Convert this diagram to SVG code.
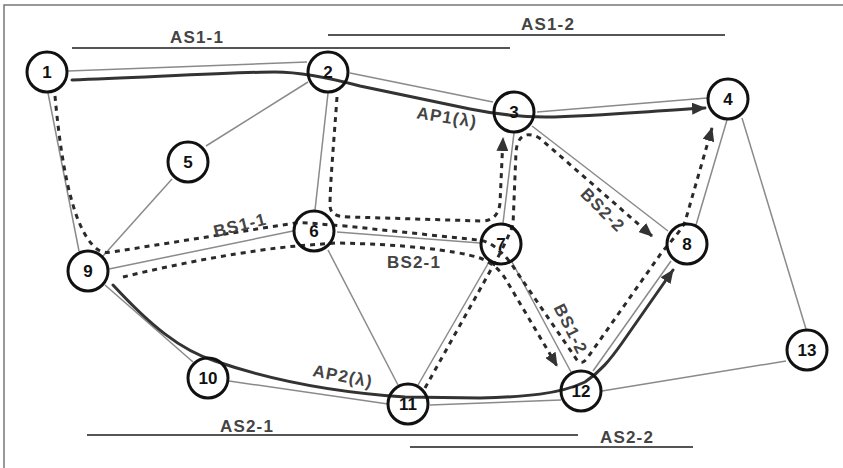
<svg xmlns="http://www.w3.org/2000/svg" width="843" height="468" viewBox="0 0 843 468">
<style>
  .frame{stroke:#777;stroke-width:1.5;fill:none}
  .edge{stroke:#8a8a8a;stroke-width:1.5;fill:none}
  .seg{stroke:#555;stroke-width:2;fill:none}
  .ap{stroke:#333;stroke-width:3;fill:none;stroke-linecap:round}
  .bs{stroke:#2a2a2a;stroke-width:3;fill:none;stroke-dasharray:5 5}
  .node circle{fill:none;stroke:#111;stroke-width:3}
  .node text{font-family:"Liberation Sans",Arial,sans-serif;font-weight:bold;font-size:17px;fill:#111;text-anchor:middle}
  .lbl{font-family:"Liberation Sans",Arial,sans-serif;font-weight:bold;font-size:17px;fill:#444;text-anchor:middle;letter-spacing:1.2px}
</style>
<defs>
  <marker id="ah" markerUnits="userSpaceOnUse" markerWidth="14" markerHeight="12" refX="13" refY="6" orient="auto">
    <path d="M0,0 L14,6 L0,12 z" fill="#333"/>
  </marker>
</defs>
<rect width="843" height="468" fill="#fff"/>
<path class="frame" d="M4,468 L4,5 L843,5"/>

<g id="segments">
  <line class="seg" x1="72" y1="48" x2="510" y2="48"/>
  <line class="seg" x1="328" y1="35" x2="725" y2="35"/>
  <line class="seg" x1="87" y1="435" x2="578" y2="435"/>
  <line class="seg" x1="410" y1="447" x2="693" y2="447"/>
  <text class="lbl" x="197" y="43">AS1-1</text>
  <text class="lbl" x="548" y="30">AS1-2</text>
  <text class="lbl" x="247" y="432">AS2-1</text>
  <text class="lbl" x="627" y="443">AS2-2</text>
</g>

<g id="connectors">
  <line class="edge" x1="68" y1="71" x2="307" y2="62"/>
  <line class="edge" x1="350" y1="73" x2="493" y2="102"/>
  <line class="edge" x1="537" y1="112" x2="707" y2="98"/>
  <line class="edge" x1="48" y1="93" x2="79" y2="251"/>
  <line class="edge" x1="308" y1="82" x2="206" y2="146"/>
  <line class="edge" x1="172" y1="179" x2="103" y2="256"/>
  <line class="edge" x1="328" y1="93" x2="315" y2="210"/>
  <line class="edge" x1="109" y1="269" x2="293" y2="231"/>
  <line class="edge" x1="337" y1="232" x2="480" y2="243"/>
  <line class="edge" x1="328" y1="250" x2="398" y2="385"/>
  <line class="edge" x1="503" y1="223" x2="514" y2="133"/>
  <line class="edge" x1="489" y1="262" x2="418" y2="385"/>
  <line class="edge" x1="512" y1="262" x2="571" y2="372"/>
  <line class="edge" x1="532" y1="126" x2="668" y2="231"/>
  <line class="edge" x1="696" y1="225" x2="727" y2="120"/>
  <line class="edge" x1="742" y1="118" x2="806" y2="329"/>
  <line class="edge" x1="786" y1="361" x2="602" y2="391"/>
  <line class="edge" x1="593" y1="371" x2="671" y2="261"/>
  <line class="edge" x1="105" y1="285" x2="193" y2="362"/>
  <line class="edge" x1="229" y1="381" x2="388" y2="404"/>
  <line class="edge" x1="430" y1="405" x2="561" y2="400"/>

  <path class="ap" marker-end="url(#ah)" d="M72,80 C150,77 240,72 275,72 C300,72 330,78 360,86 L470,109 C495,114 515,117 545,117 C600,116 650,111 705,108"/>
  <path class="ap" marker-end="url(#ah)" d="M113,285 C150,325 180,350 215,361 C270,380 330,392 405,397 L480,398 C525,397 560,394 585,382 C600,372 610,360 622,343 L673,270"/>

  <path class="bs" d="M55,96 C60,150 70,228 97,249 C101,252 106,253 112,252 L295,223 C310,222 325,225 345,226 L478,240 C490,241 500,250 510,262 L577,360 Q582,366 588,357 L662,252 C672,240 680,232 685,222 L712,128" marker-end="url(#ah)"/>
  <path class="bs" d="M337,97 C334,140 330,185 330,205 C330,214 336,217 350,217 L482,221 C493,221 499,214 500,203 L503,138" marker-end="url(#ah)"/>
  <path class="bs" d="M425,388 L493,266 C500,254 507,240 513,225 L516,152 C517,140 522,133 532,135 C536,136 540,138 543,141 L652,236" marker-end="url(#ah)"/>
  <path class="bs" d="M123,277 C180,263 250,250 297,246 L335,243 C400,244 455,250 480,258 C492,263 500,270 505,278 L557,366" marker-end="url(#ah)"/>

  <text class="lbl" transform="translate(240,225) rotate(-14)" y="6">BS1-1</text>
  <text class="lbl" x="414" y="268">BS2-1</text>
  <text class="lbl" transform="translate(603,210) rotate(45)" y="6">BS2-2</text>
  <text class="lbl" transform="translate(571,329) rotate(63)" y="6">BS1-2</text>
  <text class="lbl" transform="translate(447,117) rotate(9)" y="6">AP1(λ)</text>
  <text class="lbl" transform="translate(343,376) rotate(11)" y="6">AP2(λ)</text>
</g>

<g id="n1" class="node"><circle cx="47" cy="72" r="20"/><text x="47" y="78">1</text></g>
<g id="n2" class="node"><circle cx="328" cy="72" r="20"/><text x="328" y="78">2</text></g>
<g id="n3" class="node"><circle cx="514" cy="112" r="20"/><text x="514" y="118">3</text></g>
<g id="n4" class="node"><circle cx="728" cy="99" r="20"/><text x="728" y="105">4</text></g>
<g id="n5" class="node"><circle cx="188" cy="162" r="20"/><text x="188" y="168">5</text></g>
<g id="n6" class="node"><circle cx="314" cy="231" r="20"/><text x="314" y="237">6</text></g>
<g id="n7" class="node"><circle cx="501" cy="244" r="20"/><text x="501" y="250">7</text></g>
<g id="n8" class="node"><circle cx="687" cy="244" r="20"/><text x="687" y="250">8</text></g>
<g id="n9" class="node"><circle cx="88" cy="271" r="20"/><text x="88" y="277">9</text></g>
<g id="n10" class="node"><circle cx="208" cy="378" r="20"/><text x="208" y="384">10</text></g>
<g id="n11" class="node"><circle cx="408" cy="404" r="20"/><text x="408" y="410">11</text></g>
<g id="n12" class="node"><circle cx="581" cy="391" r="20"/><text x="581" y="397">12</text></g>
<g id="n13" class="node"><circle cx="807" cy="350" r="20"/><text x="807" y="356">13</text></g>
</svg>
